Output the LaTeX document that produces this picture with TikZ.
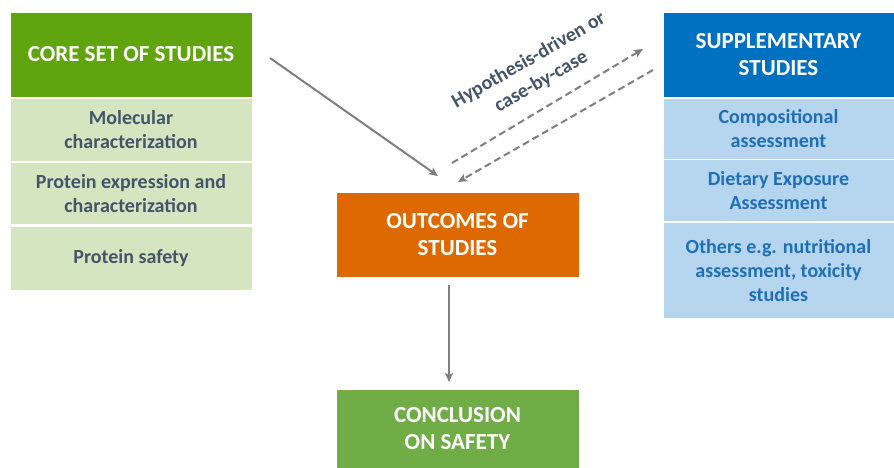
\documentclass[tikz,border=0pt]{standalone}
\usepackage{fontspec}
\setmainfont{Carlito}
\usetikzlibrary{arrows.meta}
\definecolor{coregreen}{HTML}{60A50F}
\definecolor{lightgreen}{HTML}{D5E5C0}
\definecolor{supblue}{HTML}{0070C0}
\definecolor{lightblue}{HTML}{B6D5EE}
\definecolor{rowblue}{HTML}{1F6FB8}
\definecolor{slate}{HTML}{44546A}
\definecolor{outorange}{HTML}{DE6900}
\definecolor{concgreen}{HTML}{70AD47}
\definecolor{arrowgray}{HTML}{7F7F7F}
\tikzset{
  box/.style={rectangle, inner sep=0pt, align=center, font=\bfseries\fontsize{20}{24}\selectfont, draw=white, line width=1pt},
  header/.style={box, text=white, font=\bfseries\fontsize{23}{27}\selectfont},
  corerow/.style={box, fill=lightgreen, text=slate, minimum width=242pt},
  suprow/.style={box, fill=lightblue, text=rowblue, minimum width=231pt},
  conn/.style={draw=arrowgray, line width=2pt, -{Stealth[length=9pt,width=8pt,inset=2pt]}},
  dconn/.style={conn, dashed, dash pattern=on 7pt off 4pt},
}
\begin{document}
\begin{tikzpicture}[x=1pt,y=-1pt]
\useasboundingbox[fill=white] (0,0) rectangle (894,467);
% left column
\node[header, fill=coregreen, minimum width=242pt, minimum height=85pt] (core) at (131,54.5) {CORE SET OF STUDIES};
\node[corerow, minimum height=63pt] (mol) at (131,130) {Molecular\\characterization};
\node[corerow, minimum height=62pt] (prot) at (131,193.5) {Protein expression and\\characterization};
\node[corerow, minimum height=64pt] (safe) at (131,258.5) {Protein safety};
% right column
\node[header, fill=supblue, minimum width=231pt, minimum height=85pt] (sup) at (778.5,55) {SUPPLEMENTARY\\STUDIES};
\node[suprow, minimum height=61pt] (comp) at (778.5,128.5) {Compositional\\assessment};
\node[suprow, minimum height=62pt] (diet) at (778.5,190.5) {Dietary Exposure\\Assessment};
\node[suprow, minimum height=96pt] (oth) at (778.5,270.5) {Others e.g. nutritional\\assessment, toxicity\\studies};
% center
\node[header, fill=outorange, minimum width=243pt, minimum height=85pt] (out) at (457.5,235) {OUTCOMES OF\\STUDIES};
\node[header, fill=concgreen, minimum width=243pt, minimum height=80pt] (conc) at (457.5,429) {CONCLUSION\\ON SAFETY};
% connector end points
\coordinate (a1s) at (270,58);
\coordinate (a1e) at (438,176);
\coordinate (d1s) at (452,163);
\coordinate (d1e) at (643,49);
\coordinate (d2s) at (653,70);
\coordinate (d2e) at (458,182);
\coordinate (vs) at (449,285);
\coordinate (ve) at (449,382);
\draw[conn] (a1s) -- (a1e);
\draw[dconn] (d1s) -- (d1e);
\draw[dconn] (d2s) -- (d2e);
\draw[conn] (vs) -- (ve);
\node[rotate=30, align=center, text=slate, font=\bfseries\fontsize{20}{25}\selectfont] (lab) at (535,71) {Hypothesis-driven or\\case-by-case};
\end{tikzpicture}
\end{document}
